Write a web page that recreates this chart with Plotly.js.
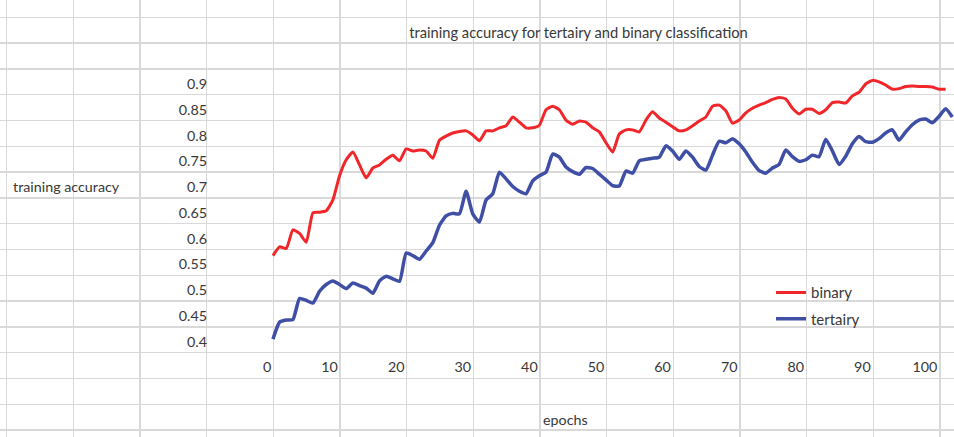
<!DOCTYPE html>
<html><head><meta charset="utf-8">
<script src="https://cdn.plot.ly/plotly-3.0.1.min.js"></script>
<style>html,body{margin:0;padding:0;background:#fff}#chart{width:954px;height:437px}</style>
</head><body><div id="chart"></div>
<script>
// ---- data ----
const epochsBinary = [1,2,3,4,5,6,7,8,9,10,11,12,13,14,15,16,17,18,19,20,21,22,23,24,25,26,27,28,29,30,31,32,33,34,35,36,37,38,39,40,41,42,43,44,45,46,47,48,49,50,51,52,53,54,55,56,57,58,59,60,61,62,63,64,65,66,67,68,69,70,71,72,73,74,75,76,77,78,79,80,81,82,83,84,85,86,87,88,89,90,91,92,93,94,95,96,97,98,99,100,101,102];
const binaryAcc = [0.567,0.584,0.581,0.617,0.610,0.593,0.650,0.651,0.654,0.675,
 0.722,0.753,0.768,0.743,0.718,0.737,0.743,0.754,0.762,0.751,
 0.774,0.770,0.772,0.770,0.756,0.791,0.799,0.805,0.808,0.809,
 0.801,0.790,0.809,0.809,0.815,0.819,0.836,0.826,0.815,0.815,
 0.820,0.850,0.857,0.850,0.830,0.822,0.828,0.826,0.815,0.807,
 0.786,0.768,0.803,0.811,0.811,0.807,0.830,0.846,0.834,0.826,
 0.817,0.809,0.811,0.819,0.828,0.836,0.857,0.859,0.848,0.824,
 0.830,0.844,0.853,0.859,0.864,0.870,0.874,0.871,0.853,0.842,
 0.851,0.851,0.843,0.850,0.864,0.865,0.863,0.877,0.884,0.900,
 0.907,0.904,0.898,0.890,0.891,0.895,0.896,0.895,0.895,0.894,
 0.890,0.890];
const epochsTertiary = [1,2,3,4,5,6,7,8,9,10,11,12,13,14,15,16,17,18,19,20,21,22,23,24,25,26,27,28,29,30,31,32,33,34,35,36,37,38,39,40,41,42,43,44,45,46,47,48,49,50,51,52,53,54,55,56,57,58,59,60,61,62,63,64,65,66,67,68,69,70,71,72,73,74,75,76,77,78,79,80,81,82,83,84,85,86,87,88,89,90,91,92,93,94,95,96,97,98,99,100,101,102,103];
const tertiaryAcc = [0.405,0.438,0.442,0.443,0.484,0.480,0.475,0.498,0.511,0.518,
 0.511,0.503,0.514,0.509,0.504,0.494,0.518,0.527,0.522,0.517,
 0.572,0.567,0.560,0.576,0.592,0.626,0.644,0.649,0.648,0.692,
 0.648,0.632,0.675,0.687,0.729,0.716,0.701,0.692,0.687,0.712,
 0.722,0.729,0.764,0.758,0.739,0.730,0.725,0.738,0.736,0.725,
 0.714,0.703,0.702,0.731,0.727,0.751,0.754,0.756,0.758,0.780,
 0.770,0.754,0.770,0.758,0.740,0.733,0.762,0.789,0.786,0.794,
 0.784,0.768,0.748,0.732,0.727,0.737,0.744,0.772,0.759,0.750,
 0.753,0.762,0.759,0.793,0.770,0.744,0.760,0.784,0.798,0.788,
 0.787,0.794,0.805,0.811,0.791,0.807,0.821,0.830,0.832,0.825,
 0.837,0.852,0.836];
const xTickVals = [0,10,20,30,40,50,60,70,80,90,100];
const yTickVals = [0.4,0.45,0.5,0.55,0.6,0.65,0.7,0.75,0.8,0.85,0.9];
const yTickText = ['0.4','0.45','0.5','0.55','0.6','0.65','0.7','0.75','0.8','0.85','0.9'];

const W = 954, H = 437;
const textColor = '#383838';
const fontFam = 'Lato, "Liberation Sans", sans-serif';

const traces = [
  // invisible trace carrying the spreadsheet-cell background grid
  {x:[null], y:[null], xaxis:'x', yaxis:'y', type:'scatter', mode:'lines', showlegend:false, hoverinfo:'skip'},
  {x:epochsBinary, y:binaryAcc, xaxis:'x2', yaxis:'y2', type:'scatter', mode:'lines', name:'binary',
   line:{color:'#f0262a', width:3, shape:'spline', smoothing:0.5}, legend:'legend'},
  {x:epochsTertiary, y:tertiaryAcc, xaxis:'x2', yaxis:'y2', type:'scatter', mode:'lines', name:'tertairy',
   line:{color:'#3f4fa6', width:3.5, shape:'spline', smoothing:0.5}, legend:'legend2'}
];

const gridAxis = {showgrid:true, gridcolor:'#d9d9d9', gridwidth:1.5, zeroline:false, showline:false,
  showticklabels:false, ticks:'', fixedrange:true};

const layout = {
  width:W, height:H, margin:{l:0, r:0, t:0, b:0, pad:0},
  paper_bgcolor:'#ffffff', plot_bgcolor:'rgba(0,0,0,0)',
  font:{family:fontFam, color:textColor, size:14},
  hovermode:false,
  title:{text:'training accuracy for tertairy and binary classification', xref:'paper', yref:'paper',
    x:578.5/W, xanchor:'center', y:1-32.7/H, yanchor:'middle', font:{family:fontFam, size:14.7, color:textColor}},
  xaxis:Object.assign({domain:[0,1], range:[0,W], tick0:6.7, dtick:66.67, anchor:'y'}, gridAxis),
  yaxis:Object.assign({domain:[0,1], range:[H,0], tick0:17.3, dtick:25.8, anchor:'x'}, gridAxis),
  xaxis2:{domain:[0,1], anchor:'free', position:1-357/H, range:[-266.3/6.66, (W-266.3)/6.66],
    tickmode:'array', tickvals:xTickVals, ticklabelposition:'outside left', ticklabelshift:5,
    showgrid:false, zeroline:false, showline:false, ticks:'', fixedrange:true,
    tickfont:{family:fontFam, size:14.3, color:textColor}},
  yaxis2:{domain:[0,1], anchor:'free', position:207/W, range:[0.4-(H-341.7)/515.4, 0.9+84/515.4],
    tickmode:'array', tickvals:yTickVals, ticktext:yTickText,
    showgrid:false, zeroline:false, showline:false, ticks:'', fixedrange:true,
    tickfont:{family:fontFam, size:14.3, color:textColor}},
  legend:{x:771/W, xanchor:'left', y:1-292.7/H, yanchor:'middle', bgcolor:'rgba(0,0,0,0)',
    font:{family:fontFam, size:15, color:textColor}},
  legend2:{x:771/W, xanchor:'left', y:1-319/H, yanchor:'middle', bgcolor:'rgba(0,0,0,0)',
    font:{family:fontFam, size:15, color:textColor}},
  annotations:[
    {text:'training accuracy', xref:'paper', yref:'paper', x:10.7/W, xanchor:'left', y:1-186.7/H, yanchor:'middle',
     showarrow:false, font:{family:fontFam, size:14.3, color:textColor}},
    {text:'epochs', xref:'paper', yref:'paper', x:565.8/W, xanchor:'center', y:1-419/H, yanchor:'middle',
     showarrow:false, font:{family:fontFam, size:14.3, color:textColor}}
  ]
};

Plotly.newPlot('chart', traces, layout, {staticPlot:true, displayModeBar:false});
</script>
</body></html>
